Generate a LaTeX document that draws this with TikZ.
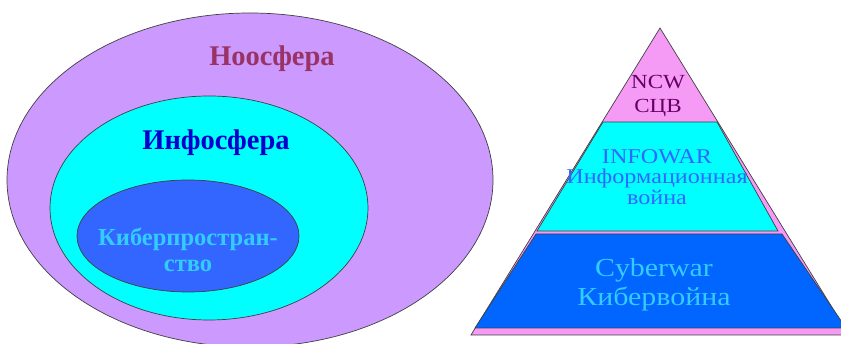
\documentclass[tikz,border=0pt]{standalone}
\usepackage{fontspec}
\setmainfont{Liberation Serif}
\newfontfamily\timesr{Liberation Serif}
\newfontfamily\timeswide[FakeStretch=1.15]{Liberation Serif}
\begin{document}
\begin{tikzpicture}[x=1pt,y=-1pt,
  shape line/.style={draw=black!75,line width=0.7pt},
  lbl/.style={inner sep=0pt,align=center},
  plbl/.style={inner sep=0pt,align=center}]
\useasboundingbox (0,0) rectangle (841,344);
% Venn-like ellipses
\fill[white] (0,0) rectangle (841,344);
\filldraw[shape line,fill={rgb,255:red,204;green,153;blue,255}] (250,180) ellipse [x radius=243, y radius=167];
\filldraw[shape line,fill={rgb,255:red,0;green,255;blue,255}] (209,208) ellipse [x radius=159, y radius=112];
\filldraw[shape line,fill={rgb,255:red,51;green,102;blue,255}] (188,236) ellipse [x radius=111, y radius=56];
\node[lbl,text={rgb,255:red,153;green,51;blue,102},font=\timesr\bfseries\fontsize{28.5}{30}\selectfont] (noo) at (272,59) {Ноосфера};
\node[lbl,text={rgb,255:red,0;green,0;blue,204},font=\timesr\bfseries\fontsize{28.5}{30}\selectfont] (info) at (216,143) {Инфосфера};
\node[lbl,text={rgb,255:red,51;green,204;blue,255},font=\timesr\bfseries\fontsize{24.5}{26}\selectfont] (kib) at (188,250) {Киберпростран-\\ство};
% Pyramid
\filldraw[shape line,fill={rgb,255:red,245;green,155;blue,245}] (660,28) -- (849,335) -- (471,335) -- cycle;
\filldraw[shape line,fill={rgb,255:red,0;green,255;blue,255}] (603,122) -- (717,122) -- (778,231) -- (537,231) -- cycle;
\filldraw[shape line,fill={rgb,255:red,0;green,102;blue,255}] (536,234) -- (782,234) -- (846,328) -- (475,328) -- cycle;
\node[plbl,text={rgb,255:red,102;green,0;blue,102},font=\timeswide\fontsize{20}{24}\selectfont] (ncw) at (658,96) {NCW\\СЦВ};
\node[plbl,text={rgb,255:red,51;green,102;blue,255},font=\timeswide\fontsize{21}{20.5}\selectfont] (iw) at (657,177) {INFOWAR\\Информационная\\война};
\node[plbl,text={rgb,255:red,51;green,204;blue,255},font=\timeswide\fontsize{26}{29}\selectfont] (cw) at (654,285) {Cyberwar\\Кибервойна};
\end{tikzpicture}
\end{document}
